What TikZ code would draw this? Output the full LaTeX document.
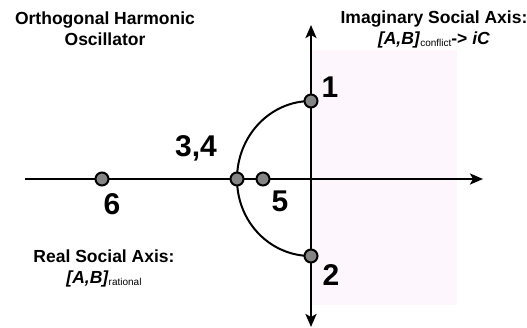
\documentclass[tikz,border=0pt]{standalone}
\usepackage{fontspec}
\setmainfont{Liberation Sans}
\usetikzlibrary{arrows.meta,backgrounds}
\definecolor{pinkbg}{HTML}{FEF6FD}
\definecolor{dotgray}{HTML}{858585}
\tikzset{
  tip/.tip={Stealth[length=13pt,width=11pt,inset=3pt]},
  axis/.style={line width=2.4pt},
  dot/.style={circle,draw=black,line width=2pt,fill=dotgray,minimum size=13pt,inner sep=0pt},
  num/.style={font=\fontsize{30}{30}\selectfont\bfseries,inner sep=0pt},
  title/.style={font=\fontsize{17.5}{21}\selectfont\bfseries,align=center,inner sep=0pt},
}
\begin{document}
\begin{tikzpicture}[x=1pt,y=-1pt]
\useasboundingbox (0,0) rectangle (527,327);
\coordinate (hl) at (25,179);
\coordinate (hr) at (483,179);
\coordinate (vt) at (311,25);
\coordinate (vb) at (311,327);
\node[dot] (p1) at (311,101) {};
\node[dot] (p2) at (311,256) {};
\node[dot] (p34) at (237,179) {};
\node[dot] (p5) at (263,179) {};
\node[dot] (p6) at (102,179) {};
\begin{scope}[on background layer]
\fill[pinkbg] (311,50) rectangle (457,305);
\draw[axis,-tip] (hl) -- (hr);
\draw[axis,tip-tip] (vb) -- (vt);
\draw[line width=2pt] (p1.center) .. controls +(-41,0) and +(0,-43) .. (p34.center)
  .. controls +(0,43) and +(-41,0) .. (p2.center);
\end{scope}
\node[num] (l1) at (330,87) {1};
\node[num] (l2) at (331,275) {2};
\node[num] (l34) at (196,148) {3,4};
\node[num] (l5) at (280,201) {5};
\node[num] (l6) at (112,204) {6};
\node[title] (t1) at (105,29) {Orthogonal Harmonic\\Oscillator};
\node[title] (t2) at (434,29) {Imaginary Social Axis:\\\textit{[A,B]}{\fontsize{10}{10}\selectfont\mdseries\raisebox{-2pt}{conflict}}-> \textit{iC}};
\node[title] (t3) at (104,268) {Real Social Axis:\\\textit{[A,B]}{\fontsize{10}{10}\selectfont\mdseries\raisebox{-2pt}{rational}}};
\end{tikzpicture}
\end{document}
